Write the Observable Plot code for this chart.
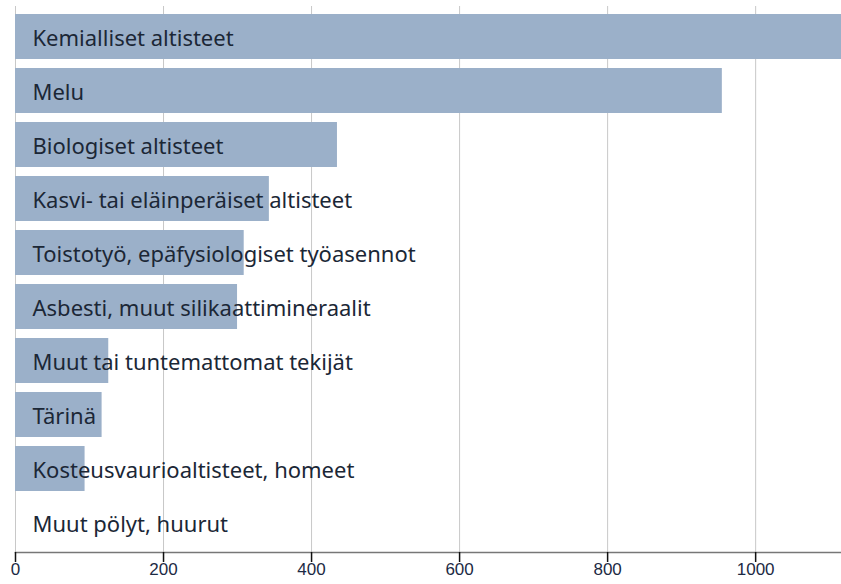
<!DOCTYPE html>
<html><head><meta charset="utf-8">
<script src="https://cdn.jsdelivr.net/npm/d3@7"></script>
<script src="https://cdn.jsdelivr.net/npm/@observablehq/plot@0.6"></script>
<style>
body{margin:0;background:#fff;}
</style>
</head><body>
<div id="chart"></div>
<script>
const categories = ["Kemialliset altisteet","Melu","Biologiset altisteet","Kasvi- tai eläinperäiset altisteet","Toistotyö, epäfysiologiset työasennot","Asbesti, muut silikaattimineraalit","Muut tai tuntemattomat tekijät","Tärinä","Kosteusvaurioaltisteet, homeet","Muut pölyt, huurut"];
const values = [1125, 955, 435, 343, 309, 300, 126, 117, 94, 0];
const xTicks = [0, 200, 400, 600, 800, 1000];
const data = categories.map((c, i) => ({category: c, value: values[i]}));

const chart = Plot.plot({
  width: 841,
  height: 584,
  marginTop: 6,
  marginBottom: 32,
  marginLeft: 15,
  marginRight: 0,
  style: {fontFamily: "'Noto Sans', sans-serif", background: "#fff"},
  x: {domain: [0, 1116], label: null, axis: null},
  y: {domain: categories, range: [9.5, 549.5], round: false, paddingInner: 0.167, paddingOuter: 0.0835, axis: null},
  marks: [
    Plot.gridX(xTicks, {stroke: "#c8c8c8", strokeOpacity: 1, strokeWidth: 1}),
    Plot.barX(data, {x: "value", y: "category", fill: "#9bb0c9", clip: true}),
    Plot.text(data, {x: 0, y: "category", text: "category", textAnchor: "start", dx: 17, dy: 2, fontSize: 22, fill: "#1b2736", fontFamily: "'Noto Sans', sans-serif"}),
    Plot.frame({anchor: "bottom", stroke: "#777", strokeWidth: 1.5}),
    Plot.axisX(xTicks, {anchor: "bottom", label: null, text: null, tickSize: 10, stroke: "#111", strokeWidth: 1.5}),
    Plot.text(xTicks, {x: d => d, text: d => String(d), frameAnchor: "bottom", dy: 22, fontSize: 17, fill: "#1c2a44", fontFamily: "'Liberation Sans', Arial, sans-serif"})
  ]
});
document.getElementById("chart").append(chart);
</script>
</body></html>
